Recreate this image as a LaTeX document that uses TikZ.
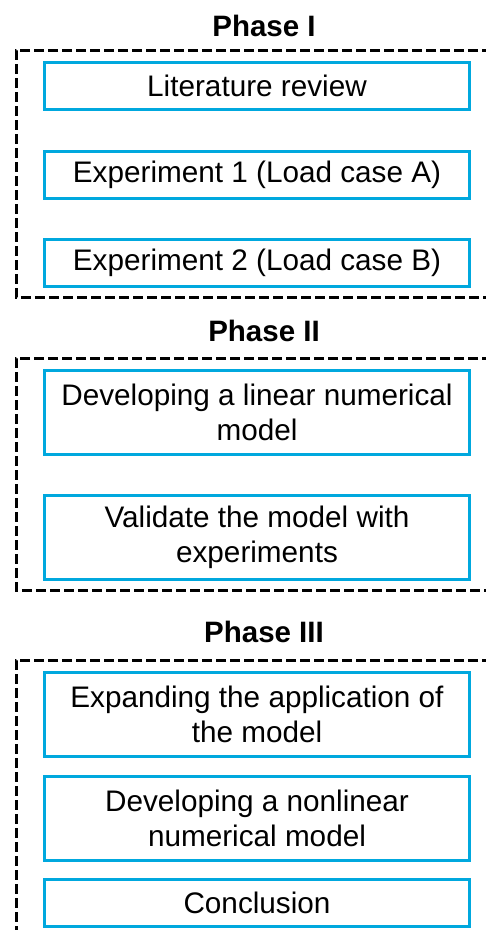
\documentclass[tikz,border=0pt]{standalone}
\usepackage{fontspec}
\setmainfont{Liberation Sans}
\usepackage{tikz}

\definecolor{boxblue}{RGB}{0,168,222}

\begin{document}
\begin{tikzpicture}[x=1pt,y=-1pt,
			task/.style={draw=boxblue,line width=3pt,minimum width=425pt,inner sep=0pt,
				align=center,font=\fontsize{29.7}{35}\selectfont},
			single/.style={task,minimum height=47pt},
			double/.style={task,minimum height=84pt},
			phase/.style={font=\fontsize{29.5}{35}\selectfont\bfseries},
			frame/.style={draw,line width=3pt,dash pattern=on 10pt off 4pt}]
	\clip (0,0) rectangle (486,930);
	% Phase I
	\node[phase] (ph1) at (264,26) {Phase I};
	\draw[frame] (492,50) -| (16,297) -- (492,297);
	\node[single] (lit) at (257,86) {Literature review};
	\node[single] (expA) at (257,175) {Experiment 1 (Load case A)};
	\node[single] (expB) at (257,263) {Experiment 2 (Load case B)};
	% Phase II
	\node[phase] (ph2) at (264,331) {Phase II};
	\draw[frame] (492,358) -| (16,590) -- (492,590);
	\node[double] (linmod) at (257,412) {Developing a linear numerical\\model};
	\node[double] (valid) at (257,537) {Validate the model with\\experiments};
	% Phase III, frame runs off the bottom
	\node[phase] (ph3) at (264,632) {Phase III};
	\draw[frame] (492,660) -| (16,940);
	\node[double] (expand) at (257,714) {Expanding the application of\\the model};
	\node[double] (nonlin) at (257,818) {Developing a nonlinear\\numerical model};
	\node[single] (concl) at (257,903) {Conclusion};
\end{tikzpicture}
\end{document}
